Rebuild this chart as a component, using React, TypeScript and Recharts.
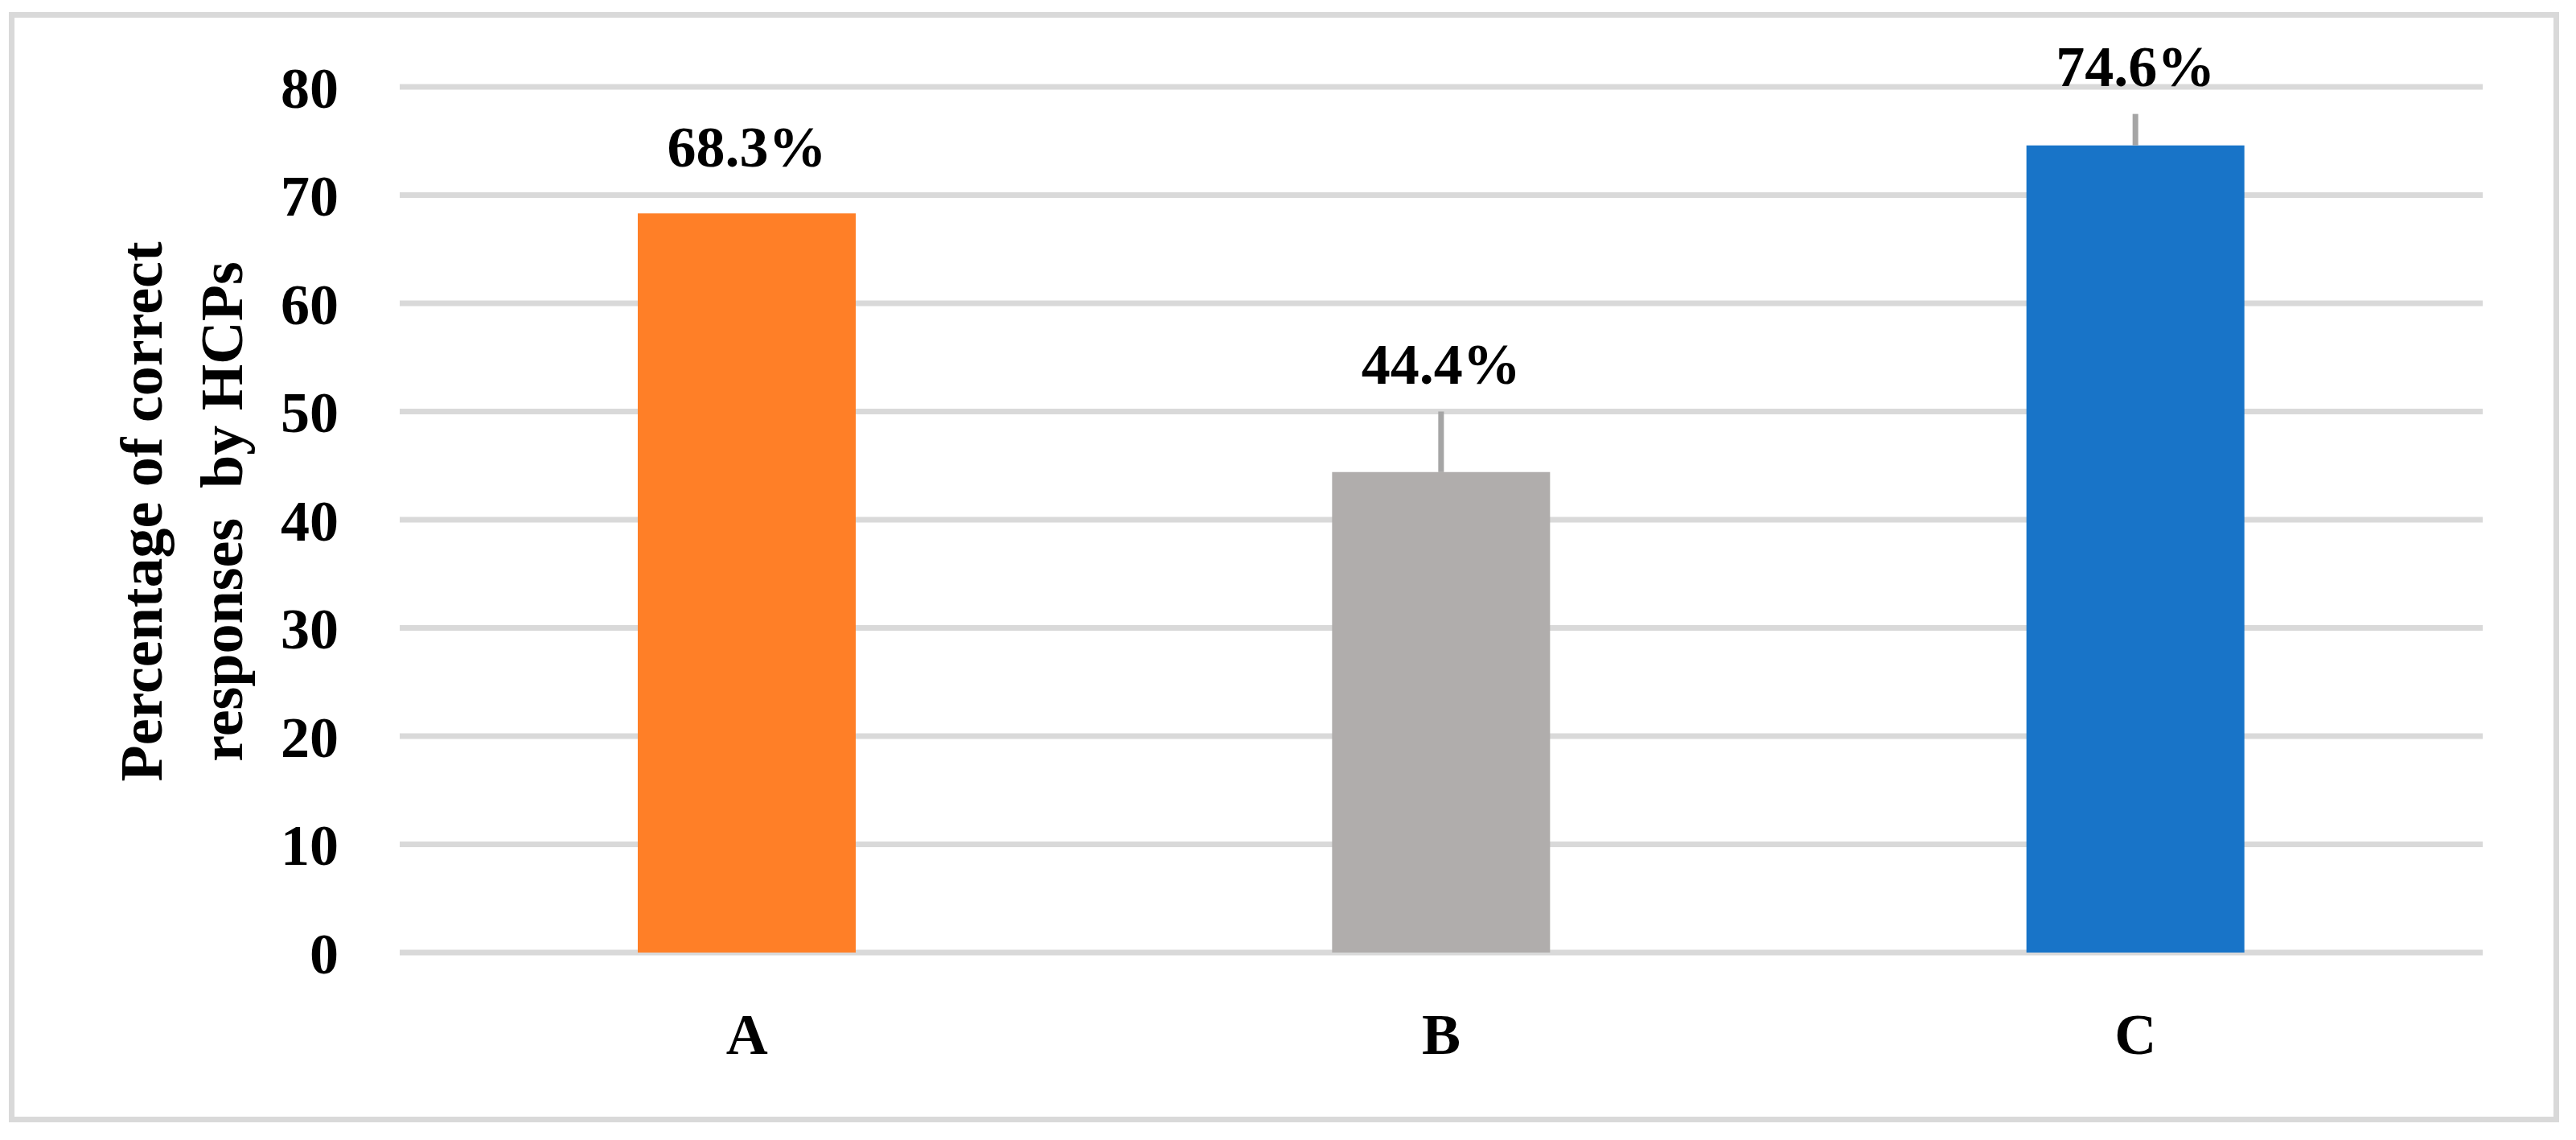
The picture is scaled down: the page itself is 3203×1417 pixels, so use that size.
import React from 'react'
import { BarChart, Bar, XAxis, YAxis, CartesianGrid, Cell, ErrorBar, LabelList } from 'recharts'

const categories = ['A', 'B', 'C']
const correctPct = [68.3, 44.4, 74.6]
const errUp = [0, 5.6, 2.9]
const barColors = ['#ff7f27', '#b0adac', '#1874c8']
const yTicks = [0, 10, 20, 30, 40, 50, 60, 70, 80]

const FONT = '"Liberation Serif", "Times New Roman", serif'

const data = categories.map((name, i) => ({
    name,
    value: correctPct[i],
    err: [0, errUp[i]],
}))

// label sits just above the error whisker, but never closer than 58px to the bar top
function ValueLabel(props: any) {
    const { x, y, width, height, value } = props
    let index = props.index
    if (index === undefined) index = correctPct.indexOf(Number(value))
    const pxPerUnit = height / value
    const errEnd = y - (errUp[index] || 0) * pxPerUnit
    const baseline = Math.min(y - 58, errEnd - 35)
    return (
        <text
            x={x + width / 2}
            y={baseline}
            textAnchor="middle"
            fontFamily={FONT}
            fontWeight="bold"
            fontSize={72}
            fill="#000"
        >
            {`${Number(value).toFixed(1)}%`}
        </text>
    )
}

function AxisTitle() {
    const cy = 636
    const common = {
        fontFamily: FONT,
        fontWeight: 'bold' as const,
        fontSize: 74,
        fill: '#000',
        textAnchor: 'middle' as const,
        dominantBaseline: 'central' as const,
        style: { whiteSpace: 'pre' as const },
    }
    return (
        <g>
            <text x={176} y={cy} transform={`rotate(-90, 176, ${cy})`} {...common}>
                Percentage of correct
            </text>
            <text x={276} y={cy} transform={`rotate(-90, 276, ${cy})`} {...common}>
                {'responses  by HCPs'}
            </text>
        </g>
    )
}

export default function App() {
    return (
        <div style={{ position: 'absolute', left: 0, top: 0, width: 3203, height: 1417, background: '#fff' }}>
            <div
                style={{
                    position: 'absolute',
                    left: 11,
                    top: 15,
                    width: 3171,
                    height: 1380,
                    border: '7px solid #d9d9d9',
                    boxSizing: 'border-box',
                }}
            />
            <div style={{ position: 'absolute', left: 0, top: 0 }}>
                <BarChart
                    width={3203}
                    height={1417}
                    data={data}
                    margin={{ top: 108, right: 116, bottom: 0, left: 0 }}
                    barCategoryGap={0}
                >
                    <CartesianGrid vertical={false} stroke="#d9d9d9" strokeWidth={7} />
                    <XAxis
                        dataKey="name"
                        height={233}
                        axisLine={false}
                        tickLine={false}
                        tickSize={0}
                        tickMargin={75}
                        tick={{ fontFamily: FONT, fontWeight: 'bold', fontSize: 72, fill: '#000' }}
                    />
                    <YAxis
                        width={497}
                        domain={[0, 80]}
                        ticks={yTicks}
                        axisLine={false}
                        tickLine={false}
                        tickSize={0}
                        tickMargin={76}
                        tick={{ fontFamily: FONT, fontWeight: 'bold', fontSize: 72, fill: '#000' }}
                        label={<AxisTitle />}
                    />
                    <Bar dataKey="value" barSize={271} isAnimationActive={false}>
                        {data.map((d, i) => (
                            <Cell key={d.name} fill={barColors[i]} />
                        ))}
                        <ErrorBar
                            dataKey="err"
                            direction="y"
                            width={0}
                            stroke="#a5a5a5"
                            strokeWidth={7}
                            isAnimationActive={false}
                        />
                        <LabelList dataKey="value" content={<ValueLabel />} />
                    </Bar>
                </BarChart>
            </div>
        </div>
    )
}
